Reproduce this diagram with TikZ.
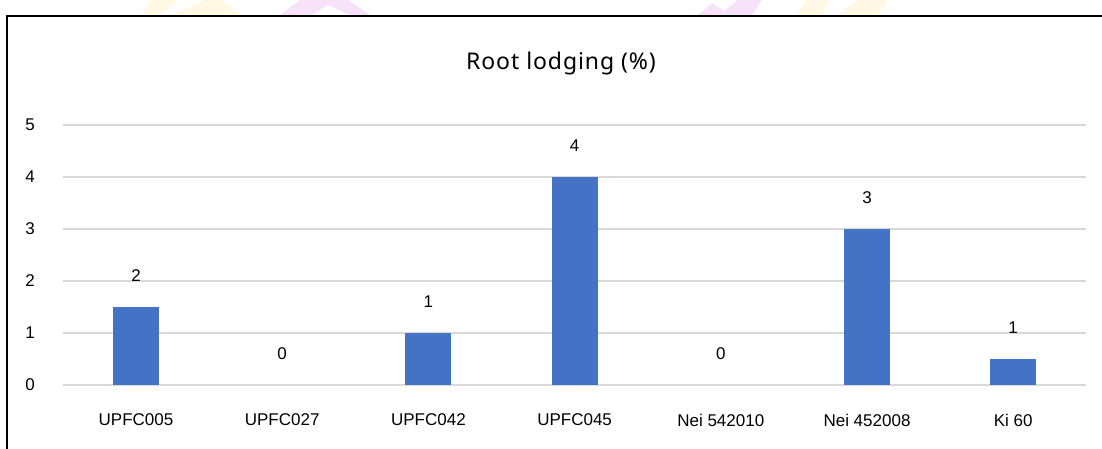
\documentclass[tikz,border=0pt]{standalone}
\usepackage{fontspec}
\setmainfont{Liberation Sans}
\newfontfamily\titlefont[LetterSpace=4]{Noto Sans}
\begin{document}
\begin{tikzpicture}[x=1pt,y=-1pt,
  grid/.style={draw=gray!30,line width=1.6pt},
  bar/.style={fill=barblue,draw=none},
  lbl/.style={font=\fontsize{17}{17}\selectfont,inner sep=0pt},
  ttl/.style={font=\titlefont\fontsize{23}{23}\selectfont,inner sep=0pt},
  markgold/.style={fill=wmgold,draw=none},
  markpink/.style={fill=wmpink,draw=none}]
\definecolor{barblue}{HTML}{4472C4}
\definecolor{wmgold}{HTML}{FFF8E4}
\definecolor{wmpink}{HTML}{F7E2F9}
\useasboundingbox[fill=white] (0,0) rectangle (1102,449);
% faint letterhead marks above the chart
\fill[markgold] (143,15) -- (150,0) -- (178,0) -- (160,15) -- cycle;
\fill[markgold] (172,15) -- (205,0) -- (222,0) -- (240,15) -- cycle;
\fill[markpink] (280,15) -- (300,0) -- (348,0) -- (370,15) -- (350,15) -- (328,5) -- (312,15) -- cycle;
\fill[markpink] (698,15) -- (712,3) -- (724,11) -- (738,0) -- (762,0) -- (752,15) -- cycle;
\fill[markgold] (797,15) -- (806,0) -- (830,0) -- (822,15) -- cycle;
\fill[markgold] (838,15) -- (858,0) -- (887,0) -- (878,15) -- cycle;
% chart frame
\draw[line width=2pt] (7,449) -- (7,16) -- (1104,16);
% title
\node[ttl] (title) at (561,64) {Root lodging (\%)};
% horizontal gridlines and value axis labels
\foreach \v in {0,...,5}{
  \draw[grid] (63,385-52*\v) -- (1086,385-52*\v);
  \node[lbl] (tick\v) at (30,385-52*\v) {\v};
}
% bars with data labels and category labels
\foreach \i/\h/\d/\c in {0/1.5/2/UPFC005,1/0/0/UPFC027,2/1/1/UPFC042,3/4/4/UPFC045,4/0/0/Nei 542010,5/3/3/Nei 452008,6/0.5/1/Ki 60}{
  \pgfmathsetmacro{\cx}{136+146.2*\i}
  \ifdim\h pt>0pt
    \fill[bar] (\cx-23,385) rectangle (\cx+23,385-52*\h);
  \fi
  \node[lbl] (val\i) at (\cx,385-52*\h-31) {\d};
  \node[lbl] (cat\i) at (\cx,420) {\c};
}
\end{tikzpicture}
\end{document}
